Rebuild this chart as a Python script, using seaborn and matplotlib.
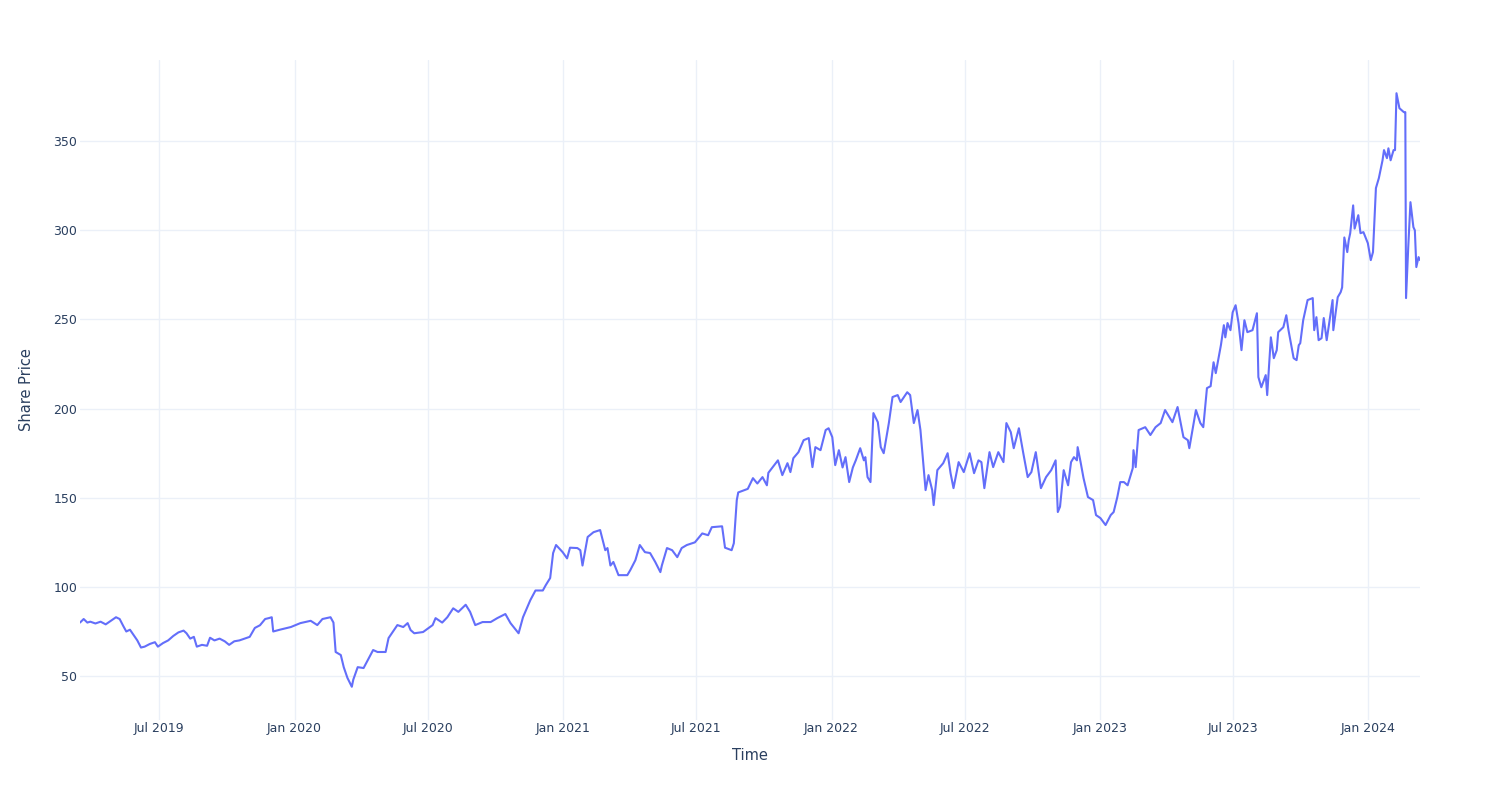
import matplotlib
matplotlib.use("Agg")
import matplotlib.pyplot as plt
import seaborn as sns
import pandas as pd

dates = [
    "2019-03-15", "2019-03-20", "2019-03-25", "2019-03-29", "2019-04-05", "2019-04-12", "2019-04-19",
    "2019-04-26", "2019-05-03", "2019-05-08", "2019-05-13", "2019-05-17", "2019-05-22", "2019-05-27",
    "2019-06-01", "2019-06-06", "2019-06-11", "2019-06-18", "2019-06-25", "2019-06-29", "2019-07-06",
    "2019-07-13", "2019-07-20", "2019-07-27", "2019-08-03", "2019-08-07", "2019-08-12", "2019-08-17",
    "2019-08-21", "2019-08-28", "2019-09-04", "2019-09-08", "2019-09-14", "2019-09-21", "2019-09-28",
    "2019-10-04", "2019-10-11", "2019-10-18", "2019-10-25", "2019-11-01", "2019-11-08", "2019-11-15",
    "2019-11-22", "2019-11-27", "2019-12-01", "2019-12-03", "2019-12-12", "2019-12-22", "2019-12-27",
    "2020-01-09", "2020-01-23", "2020-02-01", "2020-02-08", "2020-02-19", "2020-02-23", "2020-02-26",
    "2020-03-04", "2020-03-08", "2020-03-13", "2020-03-19", "2020-03-21", "2020-03-27", "2020-04-04",
    "2020-04-17", "2020-04-23", "2020-05-04", "2020-05-08", "2020-05-20", "2020-05-28", "2020-06-03",
    "2020-06-07", "2020-06-12", "2020-06-24", "2020-07-07", "2020-07-11", "2020-07-20", "2020-07-27",
    "2020-08-04", "2020-08-11", "2020-08-21", "2020-08-27", "2020-09-03", "2020-09-13", "2020-09-24",
    "2020-10-03", "2020-10-14", "2020-10-21", "2020-11-01", "2020-11-07", "2020-11-17",
    "2020-11-24", "2020-12-04", "2020-12-08", "2020-12-14", "2020-12-18", "2020-12-22", "2020-12-31",
    "2021-01-06", "2021-01-10", "2021-01-20", "2021-01-24", "2021-01-27", "2021-02-03", "2021-02-11",
    "2021-02-20", "2021-02-27", "2021-03-02", "2021-03-06", "2021-03-10", "2021-03-17", "2021-03-29",
    "2021-04-02", "2021-04-09", "2021-04-15", "2021-04-22", "2021-04-29", "2021-05-06", "2021-05-13",
    "2021-05-15", "2021-05-22", "2021-05-29", "2021-06-05", "2021-06-11", "2021-06-18", "2021-06-29",
    "2021-07-09", "2021-07-17", "2021-07-22", "2021-08-05", "2021-08-09", "2021-08-18", "2021-08-21",
    "2021-08-25", "2021-08-27",
    "2021-09-09", "2021-09-16", "2021-09-22", "2021-09-29", "2021-10-05", "2021-10-07", "2021-10-20",
    "2021-10-26", "2021-11-02", "2021-11-06", "2021-11-10", "2021-11-17", "2021-11-24", "2021-12-01",
    "2021-12-06", "2021-12-10", "2021-12-17", "2021-12-24", "2021-12-28", "2022-01-02", "2022-01-06",
    "2022-01-11", "2022-01-16", "2022-01-20", "2022-01-25", "2022-01-30", "2022-02-03", "2022-02-09",
    "2022-02-14", "2022-02-16", "2022-02-19", "2022-02-23", "2022-02-27", "2022-03-05", "2022-03-09",
    "2022-03-13", "2022-03-20", "2022-03-25", "2022-04-01", "2022-04-05", "2022-04-14", "2022-04-18",
    "2022-04-23", "2022-04-28", "2022-05-02", "2022-05-09", "2022-05-13", "2022-05-18", "2022-05-20",
    "2022-05-25", "2022-06-02", "2022-06-08", "2022-06-12", "2022-06-16", "2022-06-23", "2022-06-30",
    "2022-07-08", "2022-07-14", "2022-07-20", "2022-07-24", "2022-07-28", "2022-08-04", "2022-08-09",
    "2022-08-16", "2022-08-23", "2022-08-27", "2022-09-02", "2022-09-06", "2022-09-13", "2022-09-19",
    "2022-09-25", "2022-09-30", "2022-10-06", "2022-10-13", "2022-10-20", "2022-10-27", "2022-11-02",
    "2022-11-05", "2022-11-08", "2022-11-13", "2022-11-19", "2022-11-23", "2022-11-27", "2022-12-01",
    "2022-12-02", "2022-12-06", "2022-12-10", "2022-12-16", "2022-12-23", "2022-12-27", "2023-01-02",
    "2023-01-09", "2023-01-16", "2023-01-20", "2023-01-25", "2023-01-29", "2023-02-03", "2023-02-08",
    "2023-02-15", "2023-02-16", "2023-02-19", "2023-02-23", "2023-03-04", "2023-03-11", "2023-03-18",
    "2023-03-25", "2023-03-31", "2023-04-10", "2023-04-17", "2023-04-21",
    "2023-04-25", "2023-05-01", "2023-05-03", "2023-05-12", "2023-05-18", "2023-05-22", "2023-05-27",
    "2023-06-01", "2023-06-05", "2023-06-08", "2023-06-15", "2023-06-19", "2023-06-21", "2023-06-24",
    "2023-06-28", "2023-07-01", "2023-07-05", "2023-07-09", "2023-07-13", "2023-07-17", "2023-07-21",
    "2023-07-28", "2023-08-03", "2023-08-04", "2023-08-05", "2023-08-09", "2023-08-15", "2023-08-17",
    "2023-08-22", "2023-08-26", "2023-08-30", "2023-09-01", "2023-09-08", "2023-09-12", "2023-09-15",
    "2023-09-22", "2023-09-26", "2023-09-29", "2023-10-01", "2023-10-05", "2023-10-11", "2023-10-18",
    "2023-10-20", "2023-10-23", "2023-10-26", "2023-10-30", "2023-11-02", "2023-11-06", "2023-11-08",
    "2023-11-14", "2023-11-15", "2023-11-21", "2023-11-25", "2023-11-27", "2023-11-30", "2023-12-04",
    "2023-12-06", "2023-12-08", "2023-12-12", "2023-12-14", "2023-12-19", "2023-12-22", "2023-12-26",
    "2024-01-01", "2024-01-05", "2024-01-08", "2024-01-12", "2024-01-16", "2024-01-21", "2024-01-23",
    "2024-01-27", "2024-01-29", "2024-02-01", "2024-02-05", "2024-02-07", "2024-02-09", "2024-02-13",
    "2024-02-19", "2024-02-21", "2024-02-22", "2024-02-25", "2024-02-28", "2024-03-03", "2024-03-05",
    "2024-03-07", "2024-03-10", "2024-03-12",
]

prices = [
    80.0, 82.0, 80.0, 80.5, 79.5, 80.5, 79.0,
    81.0, 83.0, 82.0, 78.0, 75.0, 76.0, 73.0,
    70.0, 66.0, 66.5, 68.0, 69.0, 66.5, 68.5,
    70.0, 72.5, 74.5, 75.5, 74.0, 71.0, 72.0,
    66.5, 67.5, 67.0, 71.5, 70.0, 71.0, 69.5,
    67.5, 69.5, 70.0, 71.0, 72.0, 77.0, 78.5,
    82.0, 82.5, 83.0, 75.0, 76.0, 77.0, 77.5,
    79.7, 81.0, 78.6, 82.0, 83.0, 80.0, 63.5,
    61.8, 55.0, 49.0, 44.0, 48.0, 55.0, 54.5,
    64.6, 63.5, 63.5, 71.3, 78.6, 77.5, 79.7,
    75.8, 74.0, 74.7, 78.6, 82.5, 80.0, 83.0,
    88.0, 86.0, 90.0, 86.0, 78.6, 80.3, 80.3,
    82.5, 84.8, 79.7, 74.0, 83.0, 92.6,
    98.0, 98.0, 101.0, 105.0, 119.0, 123.5, 119.5,
    116.0, 122.0, 121.8, 120.6, 112.0, 128.0, 130.7,
    131.9, 120.6, 121.8, 112.0, 114.0, 106.6, 106.6,
    109.4, 115.0, 123.5, 119.5, 119.0, 114.0, 108.3,
    112.0, 121.8, 120.6, 116.7, 121.8, 123.5, 125.0,
    130.0, 129.0, 133.5, 134.0, 122.0, 120.6, 124.5,
    148.7, 153.0,
    155.0, 161.0, 158.0, 161.6, 157.0, 164.0, 171.0,
    162.7, 169.4, 164.4, 172.2, 175.6, 182.3, 183.5,
    167.2, 178.4, 176.7, 188.0, 189.0, 184.0, 168.3,
    176.7, 167.0, 172.8, 158.8, 167.0, 171.0, 177.8,
    171.0, 172.8, 161.6, 158.8, 197.5, 192.4, 178.4,
    175.0, 191.9, 206.5, 207.6, 203.7, 209.2, 207.6,
    191.9, 199.2, 188.0, 154.3, 162.7, 154.3, 145.9,
    165.5, 169.4, 175.0, 163.8, 155.4, 170.0, 164.4,
    175.0, 163.8, 171.0, 170.0, 155.4, 175.6, 167.2,
    175.6, 170.0, 191.9, 186.8, 177.8, 189.0, 175.0,
    161.6, 164.4, 175.6, 155.4, 161.6, 165.5, 171.0,
    142.0, 145.0, 165.5, 157.0, 170.0, 172.8, 171.0,
    178.4, 170.0, 161.0, 150.4, 148.7, 140.3, 138.6,
    134.7, 140.3, 142.0, 150.4, 158.8, 158.8, 157.0,
    166.6, 176.7, 167.2, 188.0, 189.6, 185.2, 189.6,
    191.9, 199.2, 192.4, 200.9, 192.4,
    184.0, 182.3, 177.8, 199.2, 191.9, 189.6, 211.5,
    212.6, 226.0, 219.9, 235.6, 246.8, 240.0, 248.0,
    244.0, 254.0, 258.0, 248.0, 232.8, 249.6, 242.9,
    244.0, 253.5, 237.3, 217.7, 212.0, 218.8, 207.6,
    240.0, 228.3, 232.8, 242.9, 245.7, 252.4, 244.0,
    228.3, 227.2, 235.6, 236.7, 249.6, 260.9, 262.0,
    244.0, 251.3, 238.4, 239.5, 250.8, 238.4, 244.0,
    260.9, 244.0, 262.5, 265.3, 268.0, 296.0, 287.8,
    294.5, 298.4, 314.0, 301.0, 308.5, 298.4, 299.0,
    292.8, 283.3, 287.8, 323.7, 329.3, 339.3, 345.0,
    340.5, 346.0, 339.3, 345.0, 345.0, 376.9, 368.5,
    366.3, 366.3, 262.0, 290.6, 315.8, 301.8, 300.0,
    279.4, 285.0, 283.3,
]

x_tick_dates = ["2019-07-01", "2020-01-01", "2020-07-01", "2021-01-01", "2021-07-01",
                "2022-01-01", "2022-07-01", "2023-01-01", "2023-07-01", "2024-01-01"]
x_tick_labels = ["Jul 2019", "Jan 2020", "Jul 2020", "Jan 2021", "Jul 2021",
                 "Jan 2022", "Jul 2022", "Jan 2023", "Jul 2023", "Jan 2024"]
y_ticks = [50, 100, 150, 200, 250, 300, 350]

df = pd.DataFrame({"Time": pd.to_datetime(dates), "Share Price": prices})

sns.set_theme(style="white")
plt.rcParams["font.family"] = ["DejaVu Sans"]

TEXT = "#2a3f5f"
GRID = "#EBF0F8"

fig = plt.figure(figsize=(15, 8), dpi=100)
ax = fig.add_axes([80 / 1500, 80 / 800, 1340 / 1500, 660 / 800])
sns.lineplot(data=df, x="Time", y="Share Price", ax=ax, color="#636efa", linewidth=1.5)

ax.set_xlim(df["Time"].min(), df["Time"].max())
lo, hi = df["Share Price"].min(), df["Share Price"].max()
pad = (hi - lo) * 0.056
ax.set_ylim(lo - pad, hi + pad)

ax.set_xticks(pd.to_datetime(x_tick_dates))
ax.set_xticklabels(x_tick_labels)
ax.set_yticks(y_ticks)
ax.grid(True, color=GRID, linewidth=1)
ax.set_axisbelow(True)
for s in ax.spines.values():
    s.set_visible(False)
ax.tick_params(axis="both", length=0, labelsize=9, colors=TEXT)
ax.tick_params(axis="x", pad=1.5)
ax.tick_params(axis="y", pad=2)

ax.set_xlabel("Time", fontsize=10.5, color=TEXT)
ax.set_ylabel("Share Price", fontsize=10.5, color=TEXT)
ax.xaxis.set_label_coords(0.5, (720 - 756) / 660)
ax.xaxis.label.set_va("center")
ax.yaxis.set_label_coords((27 - 80) / 1340, 0.5)
ax.yaxis.label.set_va("center")

fig.savefig("out.png", dpi=100)
